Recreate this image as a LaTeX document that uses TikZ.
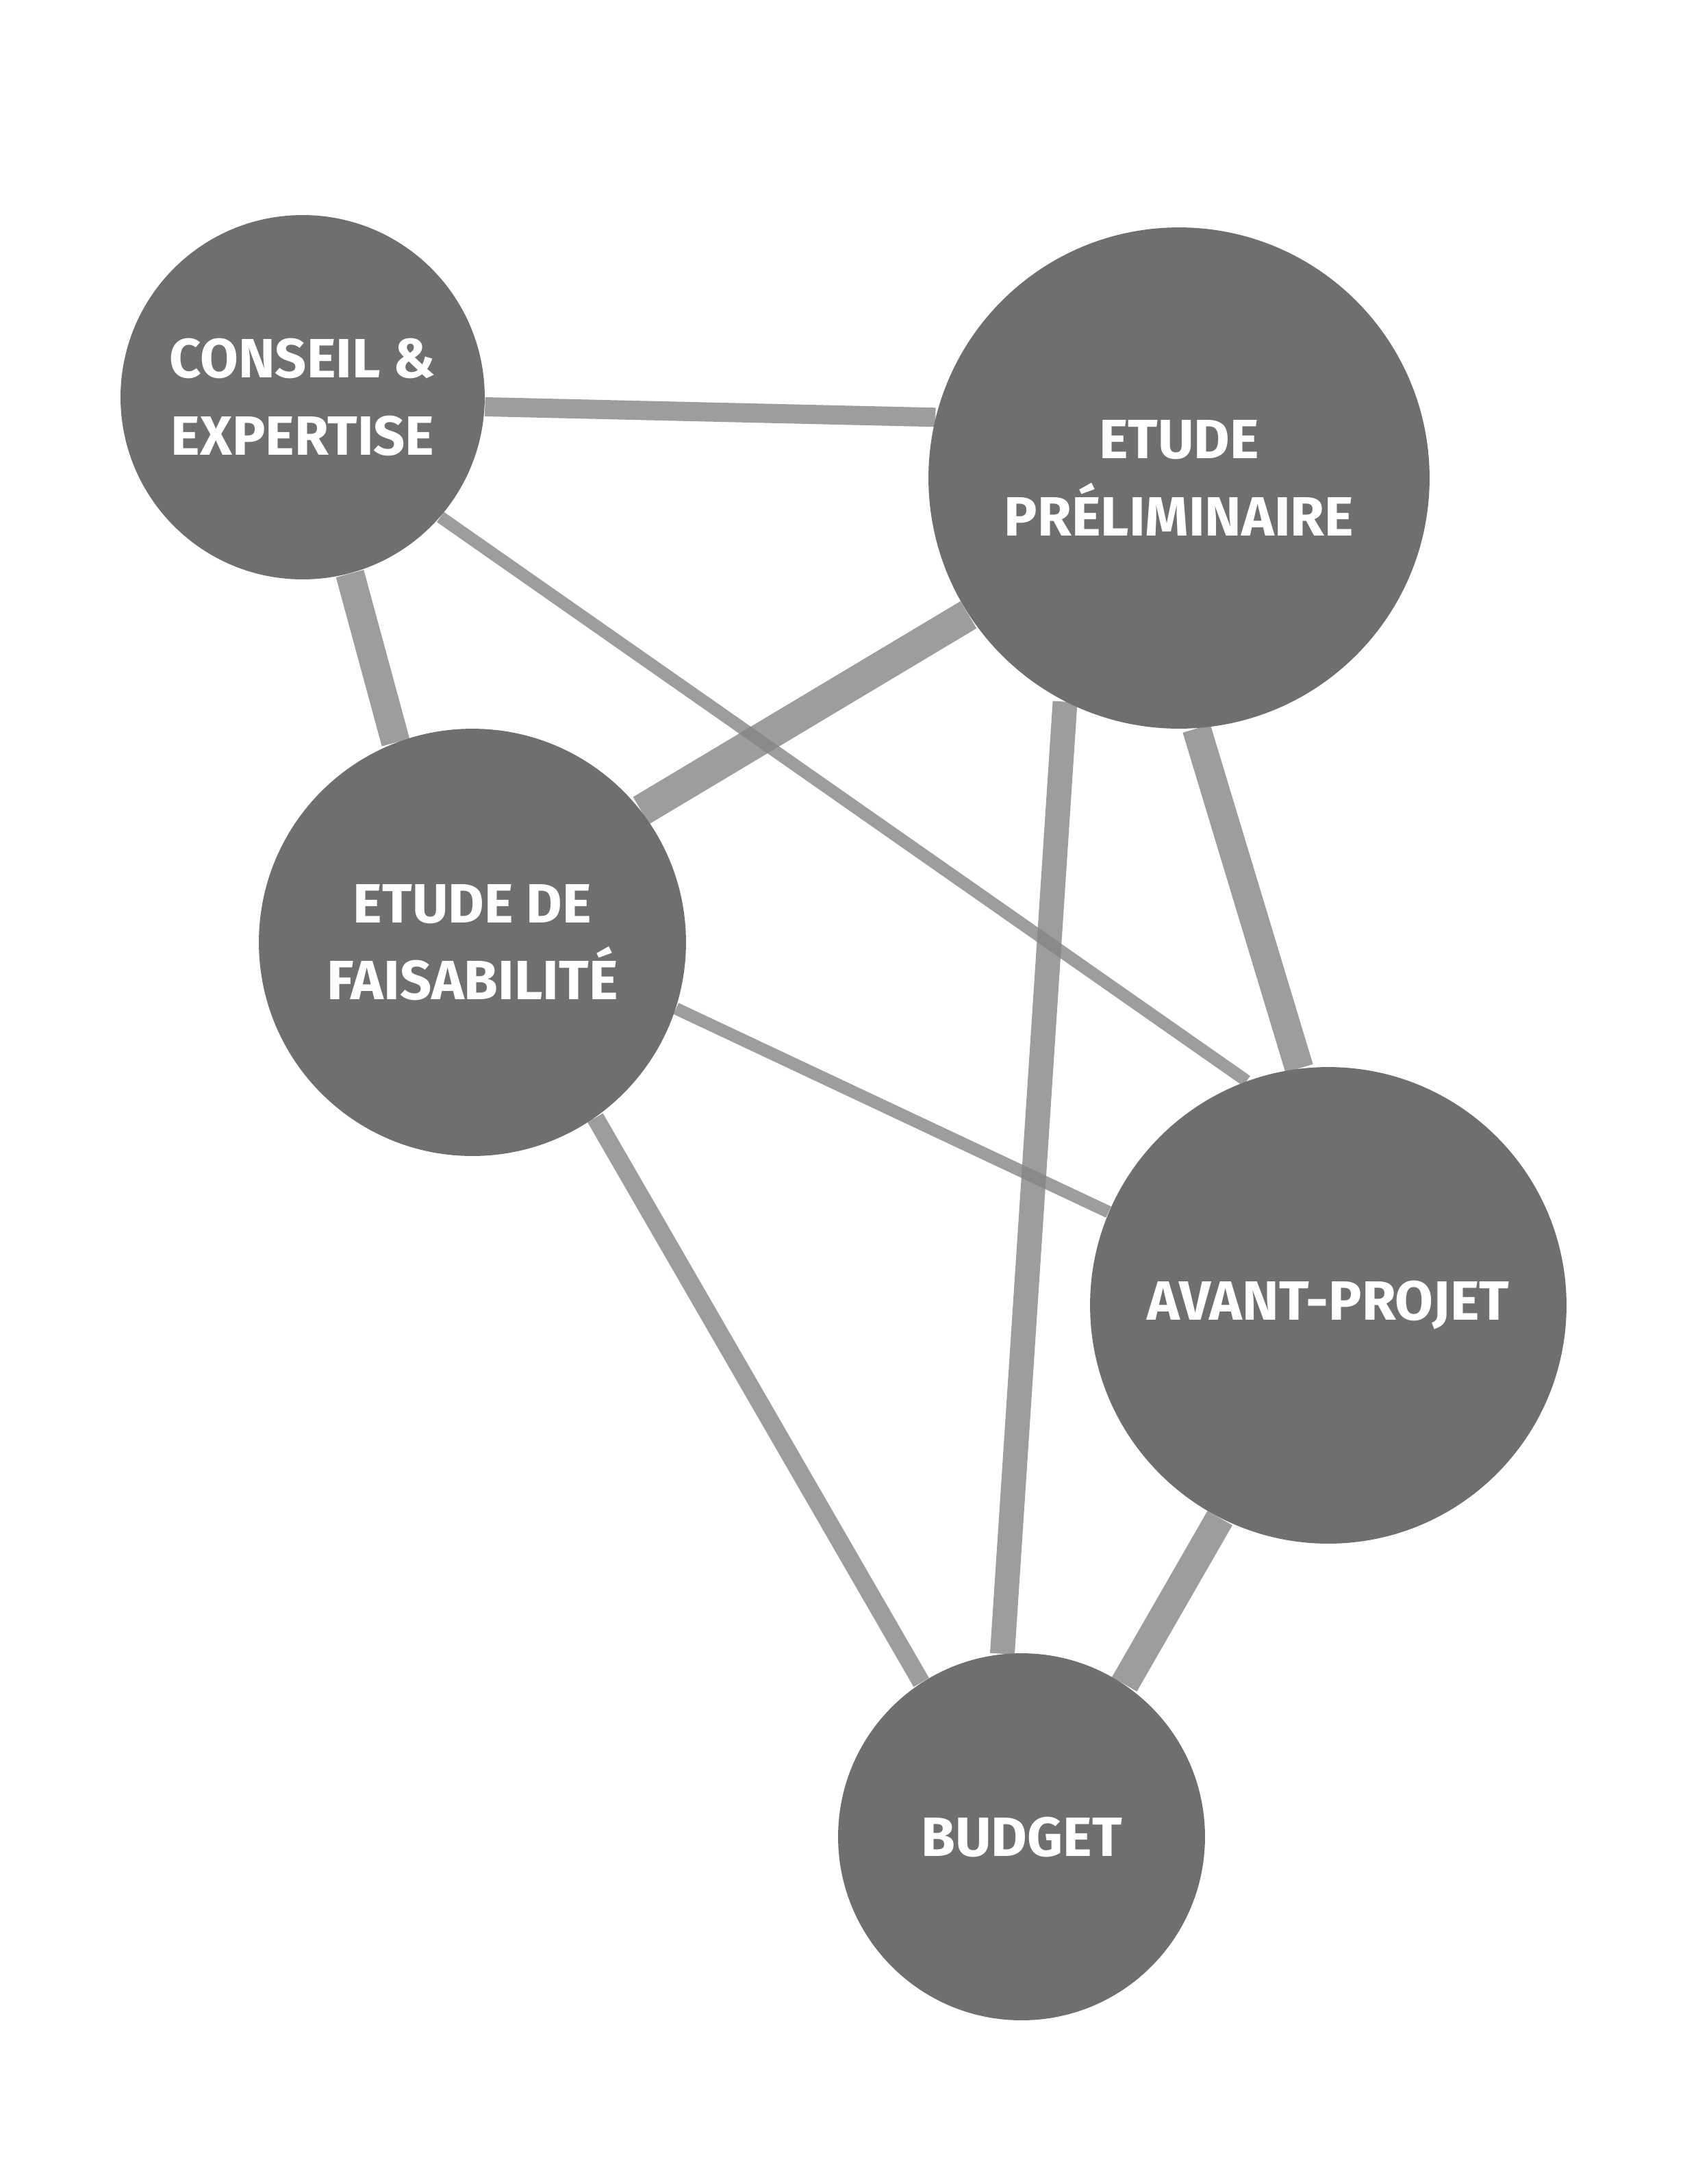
\documentclass[tikz,border=0pt]{standalone}
\usepackage{fontspec}
\setmainfont{Fira Sans}
\definecolor{disc}{HTML}{706F6D}
\definecolor{link}{HTML}{848483}
\pgfdeclarelayer{ties}
\pgfsetlayers{ties,main}
\begin{document}
\begin{tikzpicture}[
		x=0.02cm, y=-0.02cm,
		phase/.style={
				circle,
				fill=disc,
				draw=none,
				inner sep=0pt,
				minimum size=#1,
				text=white,
				align=center,
				font=\fontsize{23}{32}\selectfont\bfseries,
			},
		tie/.style={
				draw=link,
				opacity=.8,
				line width=#1,
			},
	]
	\useasboundingbox (0,0) rectangle (1240,1594.5);

	\node[phase=5.32cm] (CE) at (221,290) {CONSEIL \&\\EXPERTISE};
	\node[phase=7.32cm] (EP) at (861,349) {ETUDE\\PRÉLIMINAIRE};
	\node[phase=6.24cm] (EF) at (345,688) {ETUDE DE\\FAISABILITÉ};
	\node[phase=6.96cm] (AP) at (970,953) {AVANT-PROJET};
	\node[phase=5.36cm] (BU) at (746,1341) {BUDGET};

	\begin{pgfonlayer}{ties}
		\path[tie=.28cm] (CE.-3) -- (EP.166);
		\path[tie=.42cm] (CE.-75) -- (EF.111);
		\path[tie=.18cm] (CE.-41) -- (AP.110);
		\path[tie=.46cm] (EF.38) -- (EP.213);
		\path[tie=.36cm] (EP.243) -- (BU.96);
		\path[tie=.42cm] (EP.-86) -- (AP.97);
		\path[tie=.18cm] (EF.-18) -- (AP.157);
		\path[tie=.26cm] (EF.-55) -- (BU.123);
		\path[tie=.42cm] (AP.243) -- (BU.56);
	\end{pgfonlayer}
\end{tikzpicture}
\end{document}
